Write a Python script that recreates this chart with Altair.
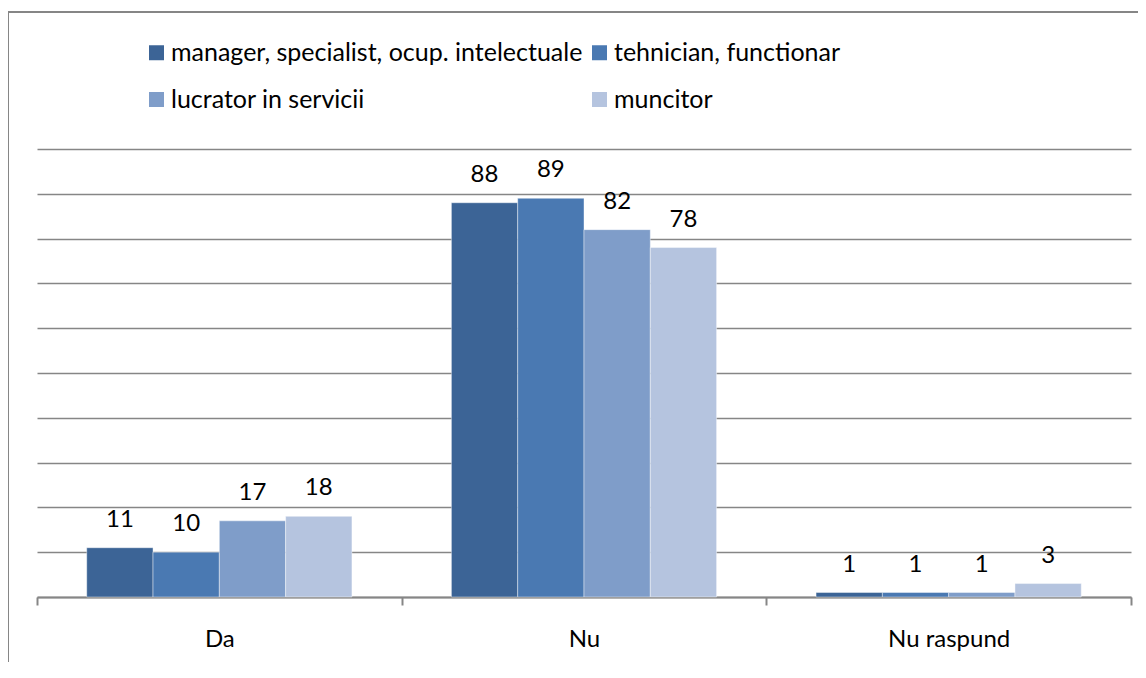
import altair as alt
import pandas as pd

categories = ["Da", "Nu", "Nu raspund"]
series = ["manager, specialist, ocup. intelectuale", "tehnician, functionar",
          "lucrator in servicii", "muncitor"]
colors = ["#3c6496", "#4a79b2", "#7f9dc9", "#b5c4df"]
values = {
    "manager, specialist, ocup. intelectuale": [11, 88, 1],
    "tehnician, functionar": [10, 89, 1],
    "lucrator in servicii": [17, 82, 1],
    "muncitor": [18, 78, 3],
}

rows = []
for s in series:
    for c, v in zip(categories, values[s]):
        rows.append({"cat": c, "ser": s, "val": v})
df = pd.DataFrame(rows)

FONT = "Lato"

x = alt.X("cat:N", sort=categories, title=None,
          scale=alt.Scale(paddingInner=0, paddingOuter=0),
          axis=alt.Axis(labelAngle=0, labelFontSize=24, labelColor="#000000",
                        labelPadding=22, tickBand="extent", tickSize=8,
                        tickColor="#868686", tickWidth=2, domainColor="#868686",
                        domainWidth=2, grid=False, labelFont=FONT))
xo = alt.XOffset("ser:N", sort=series,
                 scale=alt.Scale(paddingInner=0, paddingOuter=0.75))
y = alt.Y("val:Q", title=None,
          scale=alt.Scale(domain=[0, 100], nice=False),
          axis=alt.Axis(values=list(range(0, 101, 10)), labels=False, ticks=False,
                        domain=False, grid=True, gridColor="#868686", gridWidth=1.5))

bars = alt.Chart(df).mark_bar(stroke="#ffffff", strokeWidth=0.6, strokeOpacity=0.7).encode(
    x=x, xOffset=xo, y=y,
    color=alt.Color("ser:N", sort=series,
                    scale=alt.Scale(domain=series, range=colors),
                    legend=alt.Legend(title=None, orient="none", legendX=107, legendY=-109,
                                      direction="horizontal",
                                      columns=2, symbolType="square", symbolSize=225,
                                      symbolStrokeWidth=0, labelFontSize=25,
                                      labelFont=FONT, labelColor="#000000",
                                      rowPadding=21, columnPadding=4, labelOffset=2,
                                      labelLimit=0, padding=0)),
)

labels = alt.Chart(df).mark_text(baseline="bottom", dy=-16, fontSize=24, font=FONT,
                                 color="#000000").encode(
    x=x, xOffset=xo, y=y, text="val:Q")

frame_top = alt.Chart(pd.DataFrame({"a": [0]})).mark_rule(color="#868686", strokeWidth=2).encode(
    x=alt.value(-29), x2=alt.value(1200), y=alt.value(-137))
frame_left = alt.Chart(pd.DataFrame({"a": [0]})).mark_rule(color="#868686", strokeWidth=2).encode(
    x=alt.value(-29), y=alt.value(-137), y2=alt.value(700))

chart = alt.layer(frame_top, frame_left, bars, labels).properties(
    width=1094, height=448,
    autosize=alt.AutoSizeParams(type="none"),
    padding={"left": 29, "top": 141, "right": 7, "bottom": 65},
    background="#ffffff",
).configure_view(stroke=None)

chart.save("out.html", embed_options={"renderer": "svg", "actions": False})
